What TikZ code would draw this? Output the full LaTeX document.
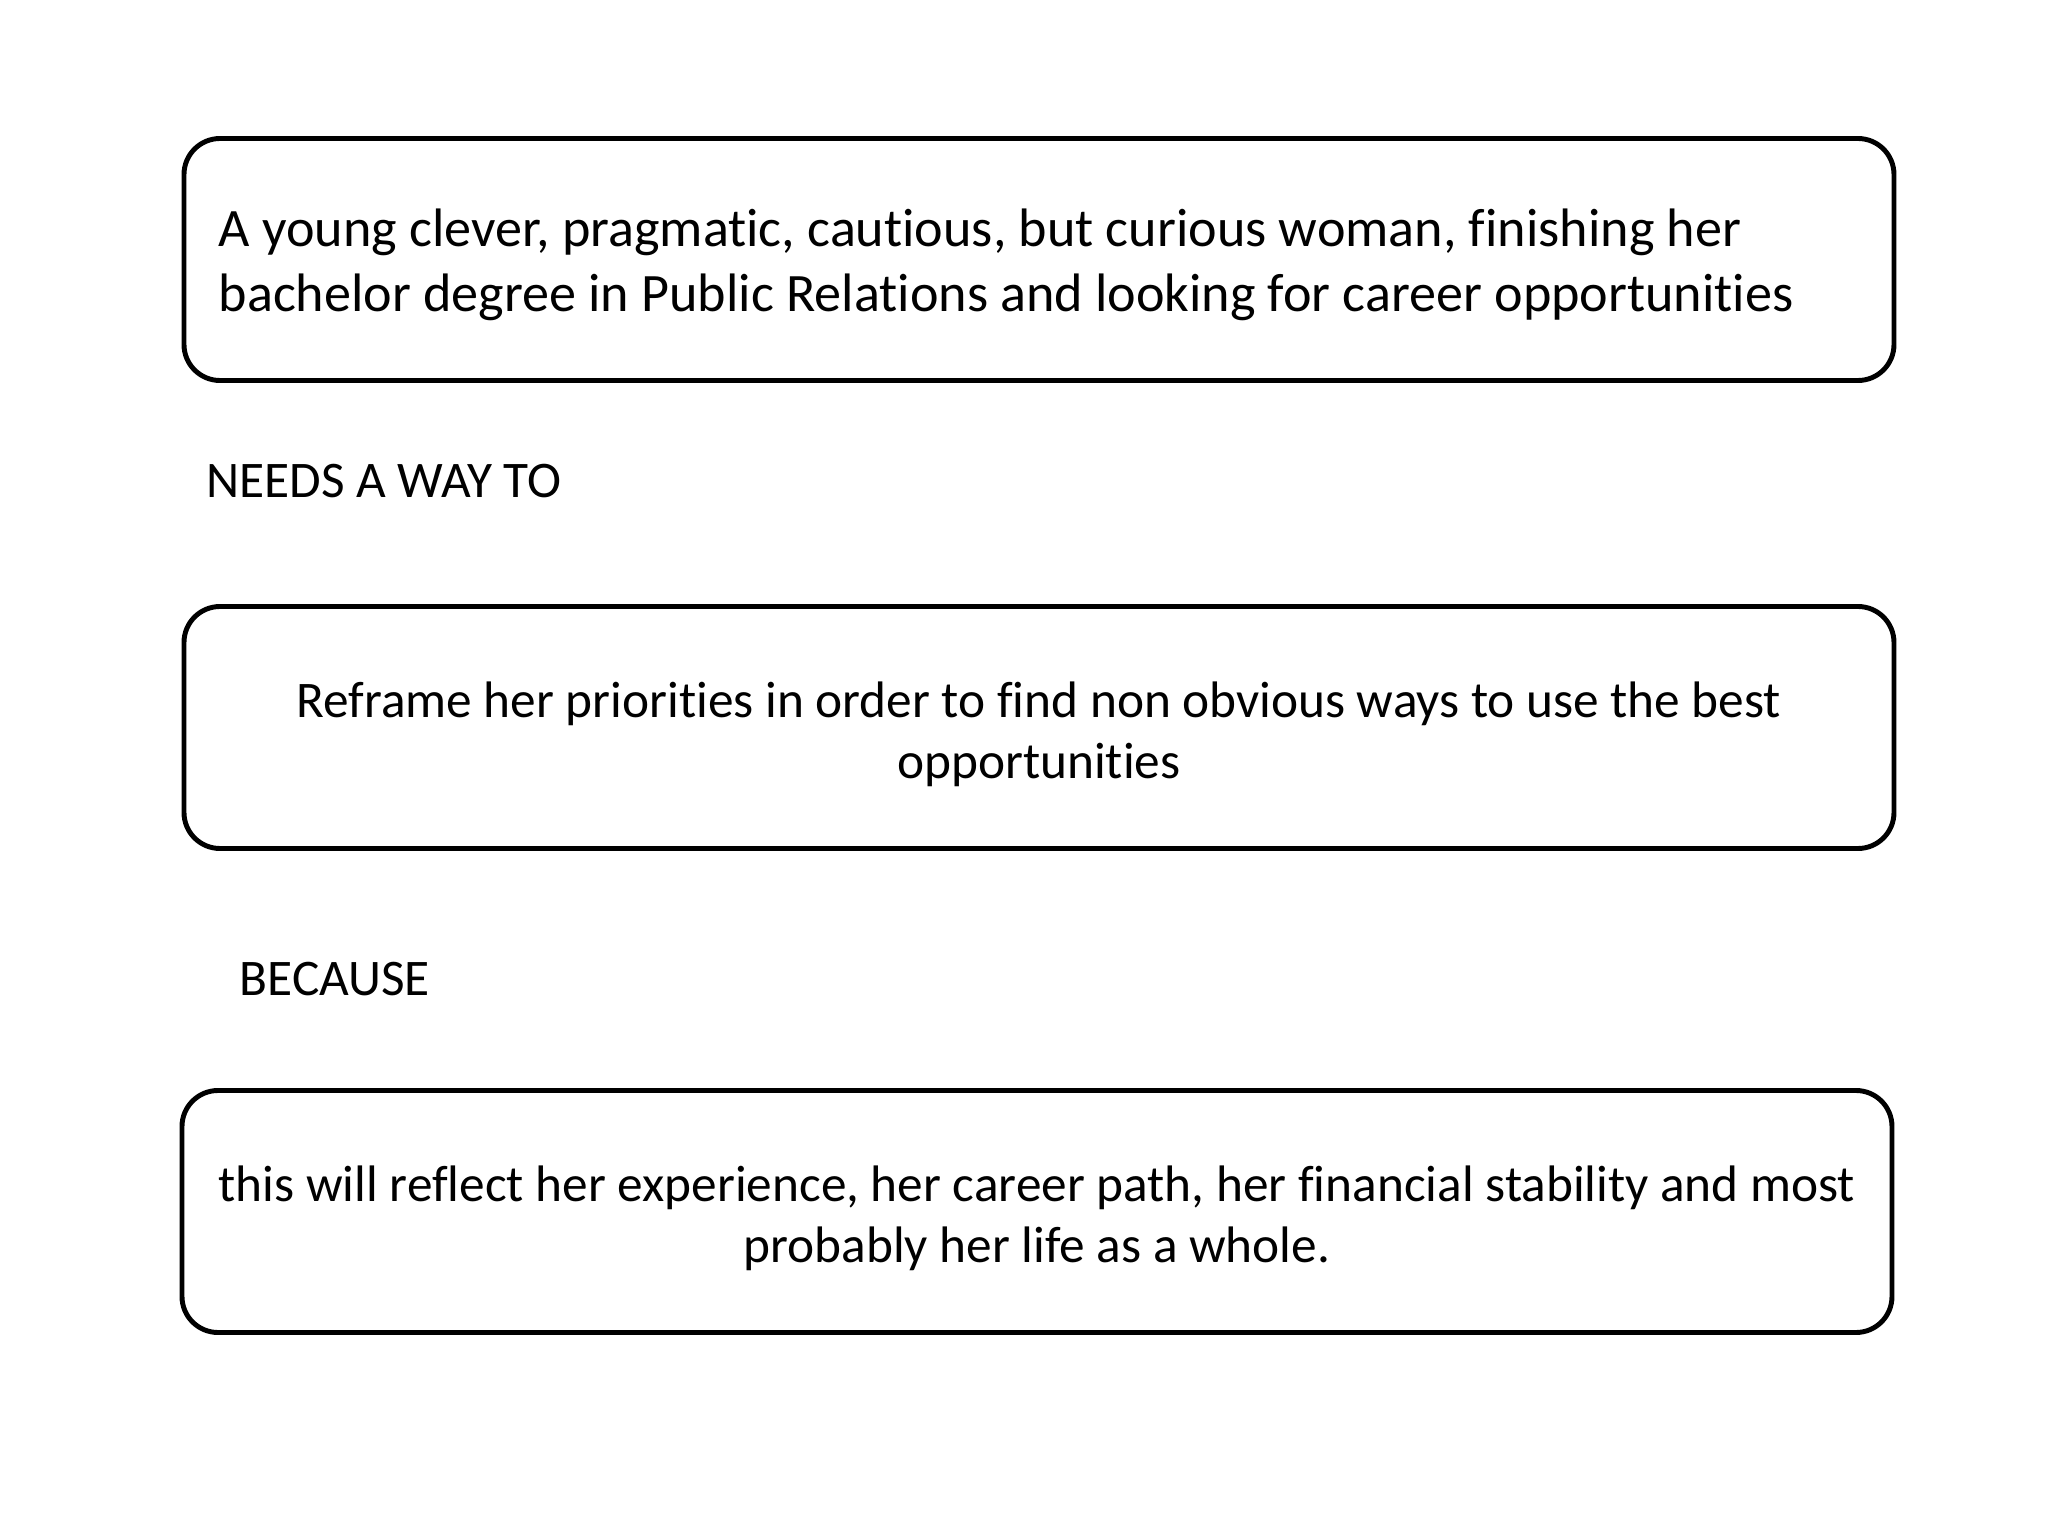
\documentclass[tikz,border=0pt]{standalone}
\usepackage{fontspec}
\setmainfont[Ligatures=NoCommon,RawFeature=-liga]{Carlito}
\begin{document}
\begin{tikzpicture}[
    box/.style={draw, line width=1.4pt, rounded corners=0.36cm,
                minimum width=17.1cm, minimum height=2.42cm,
                inner sep=0pt},
    boxtext/.style={align=center, inner sep=0pt,
                    font=\fontsize{14.6}{17.4}\selectfont},
    tag/.style={anchor=base west, inner sep=0pt}
  ]
    \def\bx{10.39} % x of the box centres
    \fontsize{14.6}{17.4}\selectfont
    \useasboundingbox (0,0) rectangle (20.48,-15.36); % page size

    % the three boxes
    \node [box] (persona) at (\bx,-2.595) {};
    \node [boxtext, anchor=west, align=left,
           font=\fontsize{15.4}{18.4}\selectfont] (personatext) at (2.18,-2.65)
      {A young clever, pragmatic, cautious, but curious woman, finishing her\\
       bachelor degree in Public Relations and looking for career opportunities};

    \node [box] (need) at (\bx,-7.275) {};
    \node [boxtext] (needtext) at (\bx,-7.34)
      {Reframe her priorities in order to find non obvious ways to use the best\\
       opportunities};

    \node [box] (insight) at (10.37,-12.115) {};
    \node [boxtext] (insighttext) at (10.37,-12.18)
      {this will reflect her experience, her career path, her financial stability and most\\
       probably her life as a whole.};

    % the words in between
    \node [tag] (needs) at (2.06,-4.98) {NEEDS A WAY TO};
    \node [tag] (because) at (2.39,-9.95) {BECAUSE};
\end{tikzpicture}
\end{document}
